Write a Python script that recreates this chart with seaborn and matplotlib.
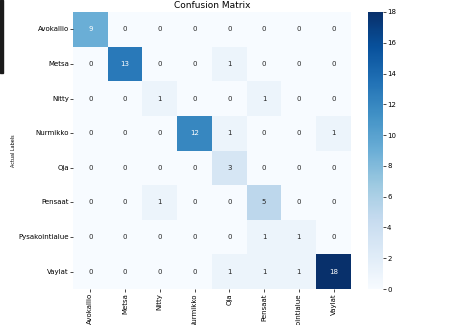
import numpy as np
import pandas as pd
import matplotlib
matplotlib.use("Agg")
import matplotlib.pyplot as plt
import seaborn as sns
from matplotlib.patches import Rectangle

labels = ['Avokallio', 'Metsa', 'Nitty', 'Nurmikko', 'Oja', 'Pensaat', 'Pysakointialue', 'Vaylat']

# rows = actual, columns = predicted
row_avokallio = [9, 0, 0, 0, 0, 0, 0, 0]
row_metsa = [0, 13, 0, 0, 1, 0, 0, 0]
row_nitty = [0, 0, 1, 0, 0, 1, 0, 0]
row_nurmikko = [0, 0, 0, 12, 1, 0, 0, 1]
row_oja = [0, 0, 0, 0, 3, 0, 0, 0]
row_pensaat = [0, 0, 1, 0, 0, 5, 0, 0]
row_pysakointialue = [0, 0, 0, 0, 0, 1, 1, 0]
row_vaylat = [0, 0, 0, 0, 1, 1, 1, 18]

cm = pd.DataFrame([row_avokallio, row_metsa, row_nitty, row_nurmikko,
                   row_oja, row_pensaat, row_pysakointialue, row_vaylat],
                  index=labels, columns=labels)

fontsize = 5

fig = plt.figure(figsize=(4.52, 3.25), dpi=100)
ax = fig.add_axes([73 / 452, 1 - 289 / 325, 278 / 452, 277 / 325])
cax = fig.add_axes([368 / 452, 1 - 289 / 325, 15 / 452, 277 / 325])

sns.heatmap(cm, annot=True, fmt='d', cmap='Blues', ax=ax, cbar_ax=cax,
            annot_kws={'fontsize': fontsize})

ax.set_title('Confusion Matrix', fontsize=6.5, pad=3)
ax.set_xlabel('Predicted Labels', fontsize=3.5)
ax.set_ylabel('Actual Labels', fontsize=3.5, labelpad=2)
ax.tick_params(axis='both', labelsize=fontsize, length=2, width=0.5, pad=1)
ax.set_xticklabels(labels, rotation=90)
ax.set_yticklabels(labels, rotation=0)

cax.tick_params(labelsize=fontsize, length=2, width=0.5, pad=1)
cax.set_yticks(np.arange(0, 19, 2))
for s in cax.spines.values():
    s.set_visible(False)

# dark screen edge at the top left of the capture
fig.patches.append(Rectangle((0, 1 - 73 / 325), 3 / 452, 73 / 325,
                             transform=fig.transFigure, color='#1a1a1a', zorder=10))

plt.savefig('out.png', dpi=100)
